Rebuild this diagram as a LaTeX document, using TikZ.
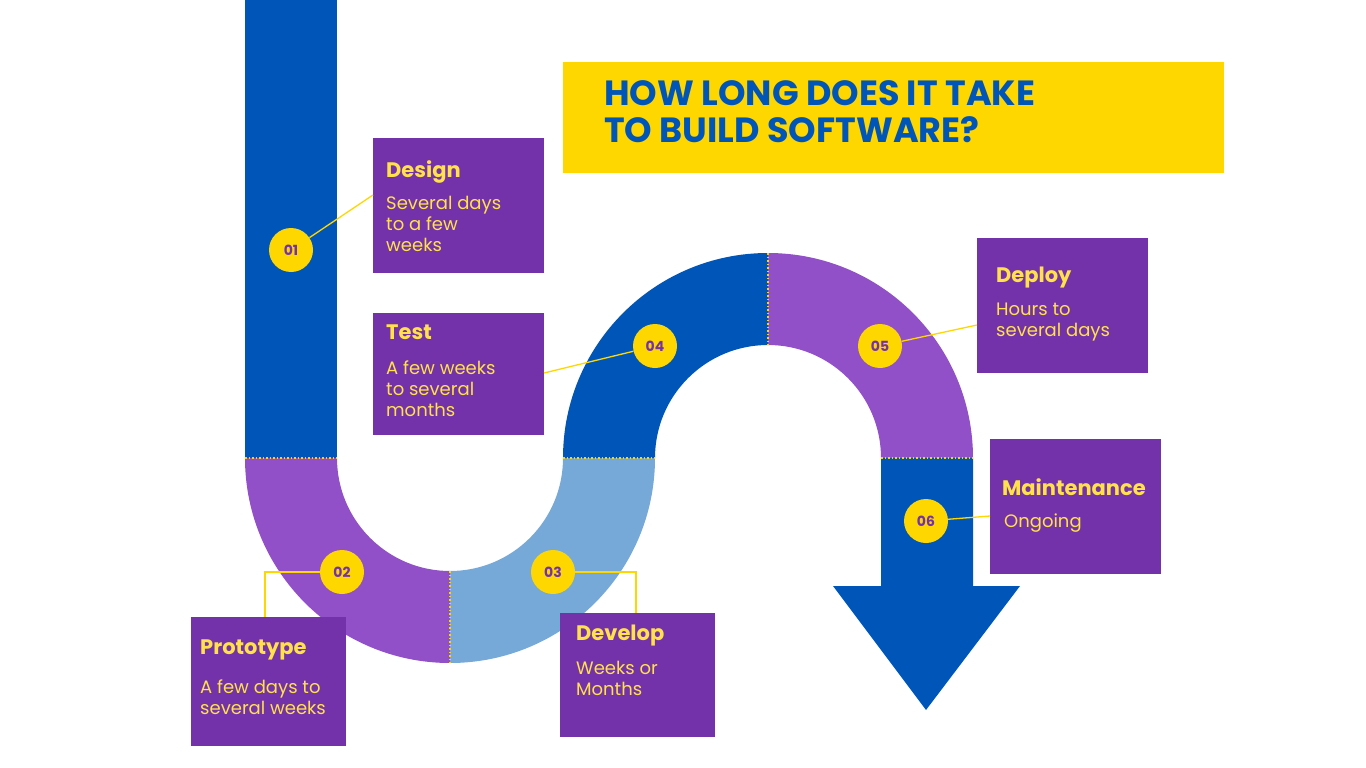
\documentclass[tikz,border=0pt]{standalone}
\usepackage{fontspec}
\setmainfont{Poppins}
\definecolor{dblue}{HTML}{0056B8}
\definecolor{pband}{HTML}{9150C8}
\definecolor{lblue}{HTML}{76A9D8}
\definecolor{pbox}{HTML}{7332AA}
\definecolor{yel}{HTML}{FFD700}
\definecolor{ytxt}{HTML}{FFE24A}
\begin{document}
\begin{tikzpicture}[x=1pt,y=-1pt,
  box/.style={fill=pbox,draw=none},
  num/.style={circle,fill=yel,minimum size=44pt,inner sep=0pt,text=pbox,font=\fontsize{14}{14}\selectfont\bfseries},
  ttl/.style={anchor=north west,text=ytxt,inner sep=0pt,font=\fontsize{21}{21}\selectfont\bfseries},
  bod/.style={anchor=north west,text=ytxt,inner sep=0pt,align=left,font=\fontsize{18}{21}\selectfont},
  ln/.style={yel,line width=1.3pt},
  dot/.style={yel,line width=1.5pt,dotted}]
\useasboundingbox (0,0) rectangle (1366,768);
\fill[white] (0,0) rectangle (1366,768);
% path
\fill[dblue] (245,0) rectangle (337,458);
\fill[pband] (245,458) arc[start angle=180,end angle=90,radius=205] -- (450,571) arc[start angle=90,end angle=180,radius=113] -- cycle;
\fill[lblue] (450,663) arc[start angle=90,end angle=0,radius=205] -- (563,458) arc[start angle=0,end angle=90,radius=113] -- cycle;
\fill[dblue] (563,458) arc[start angle=180,end angle=270,radius=205] -- (768,345) arc[start angle=270,end angle=180,radius=113] -- cycle;
\fill[pband] (768,253) arc[start angle=270,end angle=360,radius=205] -- (881,458) arc[start angle=360,end angle=270,radius=113] -- cycle;
\fill[dblue] (881,458) -- (973,458) -- (973,586) -- (1020,586) -- (926,710) -- (833,586) -- (881,586) -- cycle;
\draw[dot] (245,458) -- (337,458);
\draw[dot] (563,458) -- (655,458);
\draw[dot] (881,458) -- (973,458);
\draw[dot] (450,571) -- (450,663);
\draw[dot] (768,253) -- (768,345);
% title
\fill[yel] (563,62) rectangle (1224,173);
\node[anchor=north west,inner sep=0pt,text=dblue,align=left,font=\fontsize{35}{37}\selectfont\bfseries] (title) at (604,80) {HOW LONG DOES IT TAKE\\TO BUILD SOFTWARE?};
% boxes
\node[box,minimum width=171pt,minimum height=135pt,anchor=north west] (bdes) at (373,138) {};
\node[ttl] at (386,160) {Design};
\node[bod] at (386,196) {Several days\\to a few\\weeks};
\node[box,minimum width=171pt,minimum height=122pt,anchor=north west] (btest) at (373,313) {};
\node[ttl] at (386,325) {Test};
\node[bod] at (386,361) {A few weeks\\to several\\months};
\node[box,minimum width=155pt,minimum height=129pt,anchor=north west] (bpro) at (191,617) {};
\node[ttl] at (200,640) {Prototype};
\node[bod] at (200,680) {A few days to\\several weeks};
\node[box,minimum width=155pt,minimum height=124pt,anchor=north west] (bdev) at (560,613) {};
\node[ttl] at (576,625) {Develop};
\node[bod] at (576,661) {Weeks or\\Months};
\node[box,minimum width=171pt,minimum height=135pt,anchor=north west] (bdep) at (977,238) {};
\node[ttl] at (996,267) {Deploy};
\node[bod] at (996,303) {Hours to\\several days};
\node[box,minimum width=171pt,minimum height=135pt,anchor=north west] (bmai) at (990,439) {};
\node[ttl] at (1002,478) {Maintenance};
\node[bod] at (1004,514) {Ongoing};
% connectors
\coordinate (c1) at (373,195);
\coordinate (c2) at (265,572); \coordinate (c2b) at (265,617);
\coordinate (c3) at (636,572); \coordinate (c3b) at (636,613);
\coordinate (c4) at (544,373);
\coordinate (c5) at (977,325);
\coordinate (c6) at (990,516);
\node[num] (n1) at (291,250) {01};
\node[num] (n2) at (342,572) {02};
\node[num] (n3) at (553,572) {03};
\node[num] (n4) at (655,346) {04};
\node[num] (n5) at (880,346) {05};
\node[num] (n6) at (926,521) {06};
\draw[ln] (n1) -- (c1);
\draw[ln] (n2) -- (c2) -- (c2b);
\draw[ln] (n3) -- (c3) -- (c3b);
\draw[ln] (n4) -- (c4);
\draw[ln] (n5) -- (c5);
\draw[ln] (n6) -- (c6);
\end{tikzpicture}
\end{document}
